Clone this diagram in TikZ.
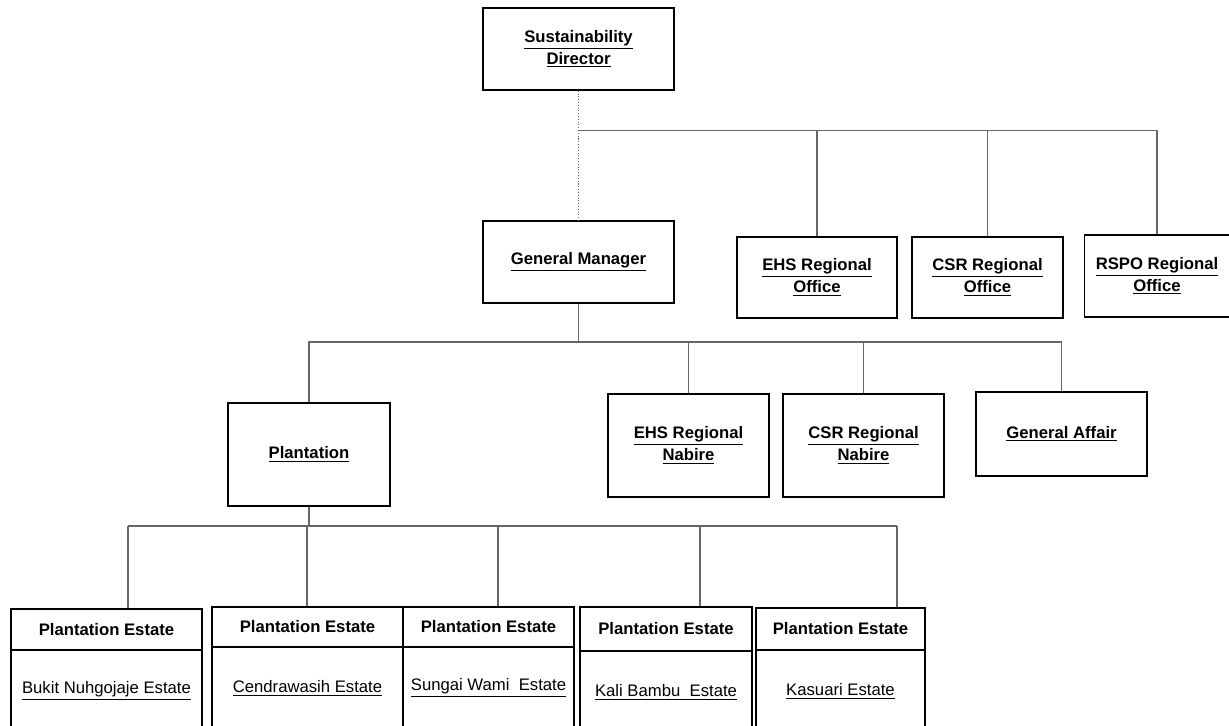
\documentclass[tikz,border=0pt]{standalone}
\usepackage{fontspec}
\setmainfont{Liberation Sans}

\begin{document}
\begin{tikzpicture}[x=0.02cm, y=-0.02cm,
    box/.style={draw, line width=0.8pt, align=center, inner sep=2pt, font=\bfseries\fontsize{9.5}{12.5}\selectfont},
    headbox/.style={draw, line width=0.8pt, inner sep=2pt, font=\bfseries\fontsize{9.5}{12}\selectfont},
    estbox/.style={draw, line width=0.8pt, inner sep=2pt, font=\fontsize{9.5}{12}\selectfont},
    link/.style={draw=black!60, line width=0.6pt}]
    \useasboundingbox (0,0) rectangle (1229,725);
    % top level
    \node[box, minimum width=3.82cm, minimum height=1.64cm] (sd) at (578.5,49) {\underline{Sustainability}\\\underline{Director}};
    \node[box, minimum width=3.82cm, minimum height=1.64cm] (gm) at (578.5,262) {\underline{General Manager}};
    \node[box, minimum width=3.2cm, minimum height=1.62cm] (ehso) at (817,277.5) {\underline{EHS Regional}\\\underline{Office}};
    \node[box, minimum width=3.02cm, minimum height=1.62cm] (csro) at (987.5,277.5) {\underline{CSR Regional}\\\underline{Office}};
    \node[box, minimum width=2.9cm, minimum height=1.64cm] (rspo) at (1157,276) {\underline{RSPO Regional}\\\underline{Office}};
    \draw[link, densely dotted] (sd) -- (gm);
    \coordinate (t1) at (578.5,130.7);
    \draw[link] (t1) -| (ehso) (t1) -| (csro) (t1) -| (rspo);
    % second level
    \node[box, minimum width=3.24cm, minimum height=2.06cm] (plant) at (309,454.5) {\underline{Plantation}};
    \node[box, minimum width=3.22cm, minimum height=2.06cm] (ehsn) at (688.5,445.5) {\underline{EHS Regional}\\\underline{Nabire}};
    \node[box, minimum width=3.22cm, minimum height=2.06cm] (csrn) at (863.5,445.5) {\underline{CSR Regional}\\\underline{Nabire}};
    \node[box, minimum width=3.42cm, minimum height=1.68cm] (ga) at (1061.5,434) {\underline{General Affair}};
    \coordinate (t2) at (578.5,342);
    \draw[link] (gm) -- (t2);
    \draw[link] (t2) -| (plant) (t2) -| (ehsn) (t2) -| (csrn) (t2) -| (ga);
    % estates
    \node[headbox, minimum width=3.82cm, minimum height=0.82cm] (e1h) at (106.5,629.5) {Plantation Estate};
    \node[estbox, minimum width=3.82cm, minimum height=1.64cm] (e1) at (106.5,691) {\underline{Bukit Nuhgojaje Estate}};
    \node[headbox, minimum width=3.82cm, minimum height=0.8cm] (e2h) at (307.5,627) {Plantation Estate};
    \node[estbox, minimum width=3.82cm, minimum height=1.64cm] (e2) at (307.5,688) {\underline{Cendrawasih Estate}};
    \node[headbox, minimum width=3.42cm, minimum height=0.8cm] (e3h) at (488.5,627) {Plantation Estate};
    \node[estbox, minimum width=3.42cm, minimum height=1.64cm] (e3) at (488.5,688) {\underline{Sungai Wami~~Estate}};
    \node[headbox, minimum width=3.44cm, minimum height=0.88cm] (e4h) at (666,629) {Plantation Estate};
    \node[estbox, minimum width=3.44cm, minimum height=1.64cm] (e4) at (666,692) {\underline{Kali Bambu~~Estate}};
    \node[headbox, minimum width=3.38cm, minimum height=0.84cm] (e5h) at (840.5,629) {Plantation Estate};
    \node[estbox, minimum width=3.38cm, minimum height=1.64cm] (e5) at (840.5,691) {\underline{Kasuari Estate}};
    \coordinate (d1) at (128,526);
    \coordinate (d2) at (307,526);
    \coordinate (d3) at (498,526);
    \coordinate (d4) at (700,526);
    \coordinate (d5) at (897,526);
    \draw[link] (plant) -- (plant |- d1);
    \draw[link] (d1) -- (d5);
    \draw[link] (d1) -- (d1 |- e1h.north);
    \draw[link] (d2) -- (d2 |- e2h.north);
    \draw[link] (d3) -- (d3 |- e3h.north);
    \draw[link] (d4) -- (d4 |- e4h.north);
    \draw[link] (d5) -- (d5 |- e5h.north);
\end{tikzpicture}
\end{document}
